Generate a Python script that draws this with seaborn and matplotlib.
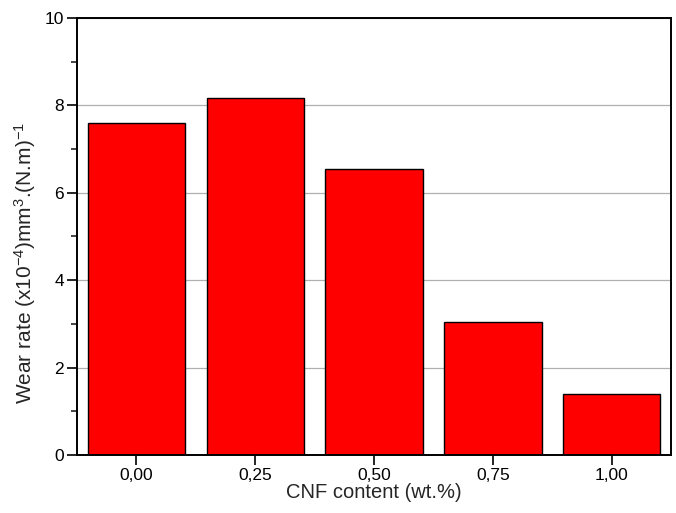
import matplotlib
matplotlib.use("Agg")
import matplotlib.pyplot as plt
from matplotlib.ticker import MultipleLocator
import seaborn as sns
import pandas as pd

categories = ["0,00", "0,25", "0,50", "0,75", "1,00"]
wear_rate = [7.60, 8.17, 6.55, 3.05, 1.40]

sns.set_style("white")
plt.rcParams['font.family'] = ['Liberation Sans', 'DejaVu Sans']
plt.rcParams['mathtext.fontset'] = 'custom'
plt.rcParams['mathtext.rm'] = 'Liberation Sans'
plt.rcParams['mathtext.it'] = 'Liberation Sans:italic'
plt.rcParams['mathtext.bf'] = 'Liberation Sans:bold'

df = pd.DataFrame({"cnf": categories, "wear": wear_rate})

fig = plt.figure(figsize=(6.76, 5.13), dpi=100)
ax = fig.add_axes([0.114, 0.113, 0.8786, 0.852])

ax.set_axisbelow(True)
ax.yaxis.grid(True, color='#b0b0b0', linewidth=0.9)
sns.barplot(data=df, x="cnf", y="wear", color="#ff0000", saturation=1,
            edgecolor="black", linewidth=1.0, width=0.82, ax=ax)

ax.set_xlim(-0.5, 4.5)
ax.set_ylim(0, 10)
ax.yaxis.set_major_locator(MultipleLocator(2))
ax.yaxis.set_minor_locator(MultipleLocator(1))
ax.tick_params(axis='both', which='major', direction='out', length=7, width=1.2,
               labelsize=12.5, pad=2.5, bottom=True, left=True, colors='black')
ax.tick_params(axis='y', which='minor', direction='out', length=4, width=1.2, left=True)
for s in ax.spines.values():
    s.set_color('black')
    s.set_linewidth(1.4)

ax.set_xlabel("CNF content (wt.%)", fontsize=14.5, labelpad=0)
ax.set_ylabel(r"Wear rate (x10$^{-4}$)mm$^{3}$.(N.m)$^{-1}$", fontsize=15)
ax.yaxis.set_label_coords(-0.066, 0.44)

fig.savefig("out.png", dpi=100)
